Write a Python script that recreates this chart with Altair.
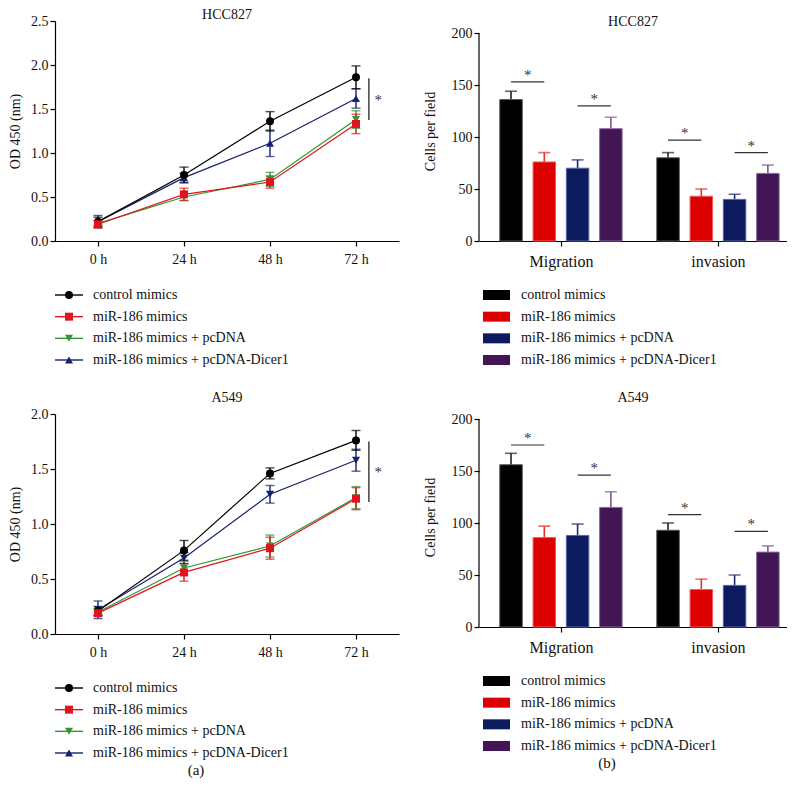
import altair as alt
import pandas as pd

FONT = "Liberation Serif"

# ---------------- data ----------------
series = ["control mimics", "miR-186 mimics", "miR-186 mimics + pcDNA",
          "miR-186 mimics + pcDNA-Dicer1"]
line_colors = ["#000000", "#e0141e", "#2f9632", "#15216c"]
bar_fill = ["#000000", "#dd0000", "#0c1a5e", "#421555"]
bar_edge = ["#555555", "#ee5a5a", "#5867a3", "#8c6a9e"]
err_colors = ["#222222", "#e83030", "#1b2b72", "#7b5790"]

hours = [0, 24, 48, 72]

# HCC827 proliferation (OD 450)
hcc_ctrl = [0.22, 0.75, 1.36, 1.86]
hcc_mir = [0.19, 0.53, 0.67, 1.33]
hcc_pc = [0.20, 0.50, 0.70, 1.38]
hcc_dicer = [0.22, 0.72, 1.11, 1.62]
hcc_ctrl_err = [0.05, 0.09, 0.11, 0.13]
hcc_mir_err = [0.04, 0.07, 0.07, 0.11]
hcc_pc_err = [0.03, 0.04, 0.08, 0.10]
hcc_dicer_err = [0.07, 0.05, 0.15, 0.11]

# A549 proliferation (OD 450)
a549_ctrl = [0.21, 0.76, 1.46, 1.76]
a549_mir = [0.19, 0.56, 0.78, 1.23]
a549_pc = [0.20, 0.60, 0.80, 1.24]
a549_dicer = [0.22, 0.69, 1.27, 1.58]
a549_ctrl_err = [0.04, 0.09, 0.05, 0.09]
a549_mir_err = [0.03, 0.08, 0.10, 0.10]
a549_pc_err = [0.03, 0.06, 0.10, 0.10]
a549_dicer_err = [0.08, 0.05, 0.08, 0.10]

# Transwell (cells per field)
groups = ["Migration", "invasion"]
hcc_mig = [136, 76, 70, 108]
hcc_mig_err = [8, 9, 8, 11]
hcc_inv = [80, 43, 40, 65]
hcc_inv_err = [5, 7, 5, 8]
hcc_sig = [153, 130, 97, 85]

a549_mig = [156, 86, 88, 115]
a549_mig_err = [11, 11, 11, 15]
a549_inv = [93, 36, 40, 72]
a549_inv_err = [7, 10, 10, 6]
a549_sig = [175, 146, 108, 92]

draw_order = [3, 2, 0, 1]
PANEL_H = 220
LEG_RANGE = [274, 339]


def line_df(vals, errs):
    rows = []
    for si in draw_order:
        for h, v, e in zip(hours, vals[si], errs[si]):
            rows.append({"series": series[si], "hour": h, "od": v,
                         "lo": v - e, "hi": v + e})
    return pd.DataFrame(rows)


def line_panel(title, df, ymax, shapes, bracket, star_y, title_offset, label=None):
    xs = alt.Scale(domain=[-12, 84], nice=False, zero=False)
    xa = alt.Axis(values=hours, labelExpr="datum.value + ' h'", title=None, labelPadding=6)
    ys = alt.Scale(domain=[0, ymax], nice=False)
    ya = alt.Axis(values=[i * 0.5 for i in range(int(ymax / 0.5) + 1)], format=".1f",
                  title="OD 450 (nm)", titlePadding=8)

    def X(f):
        return alt.X(f, type="quantitative", scale=xs, axis=xa)

    def Y(f):
        return alt.Y(f, type="quantitative", scale=ys, axis=ya)

    color = alt.Color("series:N", scale=alt.Scale(domain=series, range=line_colors), legend=None)
    shape = alt.Shape("series:N", scale=alt.Scale(domain=series, range=shapes), legend=None)
    base = alt.Chart(df)
    err = base.mark_rule(strokeWidth=1.4).encode(x=X("hour"), y=Y("lo"), y2="hi", color=color)
    cap_hi = base.mark_tick(orient="horizontal", size=9, thickness=1.4).encode(
        x=X("hour"), y=Y("hi"), color=color)
    cap_lo = base.mark_tick(orient="horizontal", size=9, thickness=1.4).encode(
        x=X("hour"), y=Y("lo"), color=color)
    lines = base.mark_line(strokeWidth=1.2).encode(x=X("hour"), y=Y("od"), color=color,
                                                   detail="series:N")
    pts = base.mark_point(filled=True, size=64, opacity=1).encode(
        x=X("hour"), y=Y("od"), color=color, shape=shape)
    bdf = pd.DataFrame({"bx": [75.6], "b1": [bracket[0]], "b2": [bracket[1]],
                        "sx": [78.2], "sy": [star_y]})
    brk = alt.Chart(bdf).mark_rule(strokeWidth=1.2, color="#111").encode(
        x=X("bx"), y=Y("b1"), y2="b2")
    star = alt.Chart(bdf).mark_text(font=FONT, fontSize=15, color="#333").encode(
        x=X("sx"), y=Y("sy"), text=alt.value("*"))
    main = alt.layer(err, cap_hi, cap_lo, lines, pts, brk, star)

    ldf = pd.DataFrame({"series": series})
    ly = alt.Y("series:N", scale=alt.Scale(type="point", domain=series, range=LEG_RANGE,
                                           padding=0), axis=None)
    lshape = alt.Shape("series:N", scale=alt.Scale(
        domain=series, range=["circle", "square", "triangle-down", "triangle-up"]), legend=None)
    lb = alt.Chart(ldf)
    lrule = lb.mark_rule(strokeWidth=1.4).encode(x=alt.value(0), x2=alt.value(28), y=ly,
                                                 color=color)
    lpt = lb.mark_point(filled=True, size=64, opacity=1).encode(
        x=alt.value(14), y=ly, color=color, shape=lshape)
    ltxt = lb.mark_text(align="left", baseline="middle", font=FONT, fontSize=14,
                        color="#111").encode(x=alt.value(38), y=ly, text="series:N")
    leg_layers = [lrule, lpt, ltxt]
    if label is not None:
        leg_layers.append(alt.Chart(pd.DataFrame({"t": [label]})).mark_text(
            font=FONT, fontSize=15, color="#111").encode(
            x=alt.value(141), y=alt.value(356), text="t:N"))
    leg = alt.layer(*leg_layers)
    return alt.layer(main, leg).resolve_scale(y="independent", shape="independent").properties(
        width=344, height=PANEL_H,
        title=alt.TitleParams(title, offset=title_offset))


def bar_df(vals_by_group, errs_by_group):
    rows = []
    for gi, (vals, errs) in enumerate(zip(vals_by_group, errs_by_group)):
        for ci, (v, e) in enumerate(zip(vals, errs)):
            c = gi + (ci - 1.5) * 0.212
            rows.append({"group": groups[gi], "series": series[ci], "xc": c,
                         "xl": c - 0.0716, "xr": c + 0.0716, "val": v, "top": v + e})
    return pd.DataFrame(rows)


def bar_panel(title, df, sig, title_offset, label=None):
    width = 308
    xs = alt.Scale(domain=[-0.522, -0.522 + width / 157.0], nice=False, zero=False)
    xa = alt.Axis(values=[0, 1],
                  labelExpr="datum.value == 0 ? '%s' : '%s'" % (groups[0], groups[1]),
                  title=None, labelFontSize=16, labelPadding=7)
    # axis spans 0..200 over 208 px; the plot area is taller so that panels share a baseline
    ys = alt.Scale(domain=[0, 200 * PANEL_H / 208.0], nice=False)
    ya = alt.Axis(values=[0, 50, 100, 150, 200], title="Cells per field", titlePadding=14,
                  domain=False)

    def X(f):
        return alt.X(f, type="quantitative", scale=xs, axis=xa)

    def Y(f):
        return alt.Y(f, type="quantitative", scale=ys, axis=ya)

    fill = alt.Fill("series:N", scale=alt.Scale(domain=series, range=bar_fill), legend=None)
    edge = alt.Stroke("series:N", scale=alt.Scale(domain=series, range=bar_edge), legend=None)
    ecol = alt.Color("series:N", scale=alt.Scale(domain=series, range=err_colors), legend=None)
    base = alt.Chart(df)
    err = base.mark_rule(strokeWidth=1.6).encode(x=X("xc"), y=Y("val"), y2="top", color=ecol)
    cap = base.mark_tick(orient="horizontal", size=12, thickness=1.6).encode(
        x=X("xc"), y=Y("top"), color=ecol)
    bars = base.mark_rect(strokeWidth=1).encode(x=X("xl"), x2="xr", y=Y("val"),
                                                y2=alt.datum(0), fill=fill, stroke=edge)
    ydom = alt.Chart(pd.DataFrame({"lo": [0], "hi": [200]})).mark_rule(
        color="#000", strokeWidth=1.2).encode(x=alt.value(0), y=Y("lo"), y2="hi")
    srows = []
    for k, h in enumerate(sig):
        gi = k // 2
        c1 = (k % 2) * 2
        a = gi + (c1 - 1.5) * 0.212
        b = gi + (c1 + 1 - 1.5) * 0.212
        srows.append({"a": a, "b": b, "m": (a + b) / 2, "h": h})
    sdf = pd.DataFrame(srows)
    srule = alt.Chart(sdf).mark_rule(strokeWidth=1.2, color="#333").encode(
        x=X("a"), x2="b", y=Y("h"))
    stxt = alt.Chart(sdf).mark_text(font=FONT, fontSize=15, color="#333", dy=-7).encode(
        x=X("m"), y=Y("h"), text=alt.value("*"))
    main = alt.layer(err, cap, bars, ydom, srule, stxt)

    ldf = pd.DataFrame({"series": series})
    ly = alt.Y("series:N", scale=alt.Scale(type="point", domain=series, range=LEG_RANGE,
                                           padding=0), axis=None)
    lb = alt.Chart(ldf)
    lsw = lb.mark_rule(strokeWidth=10).encode(x=alt.value(4), x2=alt.value(31), y=ly,
                                               color=alt.Color("series:N", scale=alt.Scale(
                                                   domain=series, range=bar_fill), legend=None))
    ltxt = lb.mark_text(align="left", baseline="middle", font=FONT, fontSize=14,
                        color="#111").encode(x=alt.value(42), y=ly, text="series:N")
    leg_layers = [lsw, ltxt]
    if label is not None:
        leg_layers.append(alt.Chart(pd.DataFrame({"t": [label]})).mark_text(
            font=FONT, fontSize=15, color="#111").encode(
            x=alt.value(128), y=alt.value(356), text="t:N"))
    leg = alt.layer(*leg_layers)
    return alt.layer(main, leg).resolve_scale(y="independent", color="independent").properties(
        width=width, height=PANEL_H,
        title=alt.TitleParams(title, offset=title_offset))


tl = line_panel("HCC827",
                line_df([hcc_ctrl, hcc_mir, hcc_pc, hcc_dicer],
                        [hcc_ctrl_err, hcc_mir_err, hcc_pc_err, hcc_dicer_err]),
                2.5, ["circle", "square", "triangle-down", "triangle-up"],
                (1.375, 1.85), 1.60, -8)
bl = line_panel("A549",
                line_df([a549_ctrl, a549_mir, a549_pc, a549_dicer],
                        [a549_ctrl_err, a549_mir_err, a549_pc_err, a549_dicer_err]),
                2.0, ["circle", "square", "triangle-down", "triangle-down"],
                (1.20, 1.75), 1.475, 2, label="(a)")
tr = bar_panel("HCC827", bar_df([hcc_mig, hcc_inv], [hcc_mig_err, hcc_inv_err]), hcc_sig, -8)
br = bar_panel("A549", bar_df([a549_mig, a549_inv], [a549_mig_err, a549_inv_err]), a549_sig, 2,
               label="(b)")

chart = alt.concat(tl, tr, bl, br, columns=2, align="none",
                   spacing={"row": 24, "column": 24}).properties(padding=0).configure_axis(
    labelFont=FONT, labelFontSize=14, labelColor="#111", titleFont=FONT, titleFontSize=14,
    titleFontWeight="normal", titleColor="#111", domainColor="#000", tickColor="#000",
    grid=False, tickSize=5, labelPadding=2, domainWidth=1.2, tickWidth=1.2
).configure_view(stroke=None).configure_title(
    font=FONT, fontSize=14, fontWeight="normal", anchor="middle", color="#111"
)

chart.save("out.html", embed_options={"renderer": "svg", "actions": False})
